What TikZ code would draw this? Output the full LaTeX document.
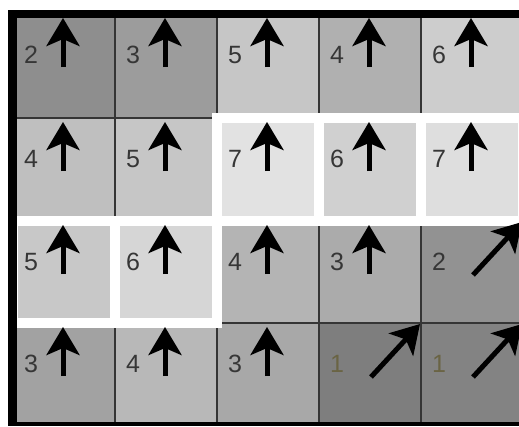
\documentclass[tikz,border=0pt]{standalone}
\usepackage{fontspec}
\setmainfont{Liberation Sans}
\usetikzlibrary{arrows.meta,calc}
\definecolor{gridline}{HTML}{353535}
\definecolor{numcol}{HTML}{363636}
\definecolor{onecol}{HTML}{6A6444}
\begin{document}
\begin{tikzpicture}[x=1pt,y=-1pt,
  cellbox/.style={inner sep=0pt,outer sep=0pt,anchor=north west,minimum width=102pt},
  num/.style={font=\fontsize{25}{25}\selectfont,inner sep=0pt},
  dirarrow/.style={line width=5pt,draw=black,-{Stealth[length=28pt,width=33pt,inset=7pt]}},
  thingrid/.style={draw=gridline,line width=2.8pt},
  pathedge/.style={draw=white,line width=10pt}
]
\useasboundingbox (0,0) rectangle (519,426);
\clip (0,0) rectangle (519,426);
\fill[white] (0,0) rectangle (519,426);
% cells: row/col/grey
\foreach \r/\c/\g in {
  1/1/142, 1/2/156, 1/3/198, 1/4/176, 1/5/205,
  2/1/191, 2/2/198, 2/3/226, 2/4/208, 2/5/222,
  3/1/200, 3/2/214, 3/3/180, 3/4/171, 3/5/146,
  4/1/162, 4/2/184, 4/3/168, 4/4/126, 4/5/131}{
  \pgfmathsetmacro\xl{13+102*(\c-1)}
  \pgfmathsetmacro\yt{{14,118,221,323,424}[\r-1]}
  \pgfmathsetmacro\yb{{14,118,221,323,424}[\r]}
  \pgfmathsetmacro\h{\yb-\yt}
  \node[cellbox,minimum height=\h pt,fill={rgb,255:red,\g;green,\g;blue,\g}] (cell-\r-\c) at (\xl,\yt) {};
  \draw[thingrid] (cell-\r-\c.north west) rectangle (cell-\r-\c.south east);
}
% white borders of the highlighted path
\foreach \r/\c in {2/3,2/4,2/5,3/1,3/2}{
  \draw[pathedge] (cell-\r-\c.north west) rectangle (cell-\r-\c.south east);
}
% numbers and arrows
\foreach \r/\c/\v/\d/\tc in {
  1/1/2/u/numcol, 1/2/3/u/numcol, 1/3/5/u/numcol, 1/4/4/u/numcol, 1/5/6/u/numcol,
  2/1/4/u/numcol, 2/2/5/u/numcol, 2/3/7/u/numcol, 2/4/6/u/numcol, 2/5/7/u/numcol,
  3/1/5/u/numcol, 3/2/6/u/numcol, 3/3/4/u/numcol, 3/4/3/u/numcol, 3/5/2/d/numcol,
  4/1/3/u/numcol, 4/2/4/u/numcol, 4/3/3/u/numcol, 4/4/1/d/onecol, 4/5/1/d/onecol}{
  \node[num,text=\tc] (num-\r-\c) at ($(cell-\r-\c.north west)+(18,41)$) {\v};
  \if\d u
    \coordinate (tail-\r-\c) at ($(cell-\r-\c.north west)+(50,53)$);
    \coordinate (head-\r-\c) at ($(cell-\r-\c.north west)+(50,4)$);
  \else
    \coordinate (tail-\r-\c) at ($(cell-\r-\c.north west)+(52,54)$);
    \coordinate (head-\r-\c) at ($(cell-\r-\c.north east)+(-1,1)$);
  \fi
  \draw[dirarrow] (tail-\r-\c) -- (head-\r-\c);
}
% outer frame
\fill[black] (8,10) rectangle (519,18);
\fill[black] (8,10) rectangle (17,426);
\fill[black] (8,422) rectangle (519,426);
\end{tikzpicture}
\end{document}
